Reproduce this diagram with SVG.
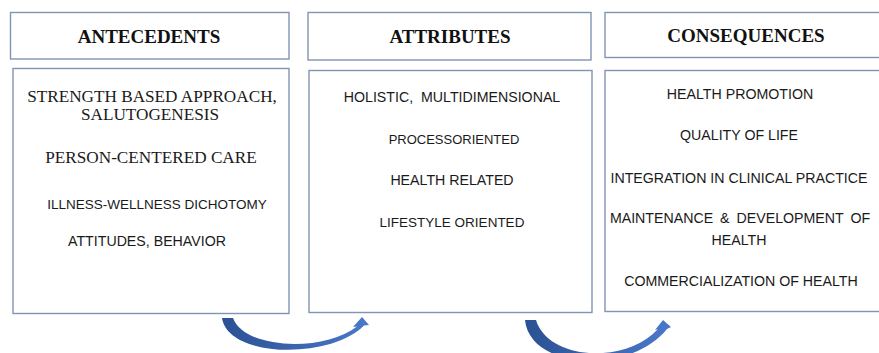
<svg xmlns="http://www.w3.org/2000/svg" width="879" height="353" viewBox="0 0 879 353">
<defs>
<linearGradient id="ag" x1="0" y1="0" x2="1" y2="0">
<stop offset="0" stop-color="#2b5194"/>
<stop offset="1" stop-color="#4a78c9"/>
</linearGradient>
<style>
.box{fill:#fff;stroke:#8094b4;stroke-width:1.4}
.hd{font-family:"Liberation Serif","Times New Roman",serif;font-weight:bold;font-size:19px;fill:#111;text-anchor:middle}
.sf{font-family:"Liberation Serif","Times New Roman",serif;font-size:17.2px;fill:#1a1a1a;text-anchor:middle}
.ss{font-family:"Liberation Sans",Arial,sans-serif;font-size:14.2px;fill:#1a1a1a;text-anchor:middle}
.ss.sm{font-size:13.5px}
.ss.xs{font-size:13px}
.arr{fill:url(#ag)}
</style>
</defs>
<rect width="879" height="353" fill="#fff"/>
<g id="antecedents">
<rect class="box" x="10.5" y="12.5" width="278.5" height="46.5"/>
<text class="hd" x="149" y="42.5">ANTECEDENTS</text>
<rect class="box" x="13" y="68.5" width="276" height="245"/>
<text class="sf" x="152" y="101.5">STRENGTH BASED APPROACH,</text>
<text class="sf" x="150" y="120">SALUTOGENESIS</text>
<text class="sf" x="151" y="162.5">PERSON-CENTERED CARE</text>
<text class="ss sm" x="157" y="208.5">ILLNESS-WELLNESS DICHOTOMY</text>
<text class="ss" x="147" y="246">ATTITUDES, BEHAVIOR</text>
</g>
<g id="attributes">
<rect class="box" x="308" y="12.5" width="283" height="47.5"/>
<text class="hd" x="450" y="43">ATTRIBUTES</text>
<rect class="box" x="309" y="70.5" width="283" height="242"/>
<text class="ss" x="452" y="101.5" xml:space="preserve">HOLISTIC,  MULTIDIMENSIONAL</text>
<text class="ss xs" x="454" y="143.5">PROCESSORIENTED</text>
<text class="ss" x="452" y="185">HEALTH RELATED</text>
<text class="ss sm" x="452" y="226.5">LIFESTYLE ORIENTED</text>
</g>
<g id="consequences">
<rect class="box" x="605" y="12.5" width="285" height="45"/>
<text class="hd" x="746" y="42">CONSEQUENCES</text>
<rect class="box" x="605" y="70.5" width="285" height="241"/>
<text class="ss" x="740" y="99">HEALTH PROMOTION</text>
<text class="ss" x="739" y="139.5">QUALITY OF LIFE</text>
<text class="ss" x="739" y="182.5">INTEGRATION IN CLINICAL PRACTICE</text>
<text class="ss" x="740" y="222.5" word-spacing="3">MAINTENANCE &amp; DEVELOPMENT OF</text>
<text class="ss" x="739" y="245">HEALTH</text>
<text class="ss" x="741" y="285.5">COMMERCIALIZATION OF HEALTH</text>
</g>
<g id="connectors">
<path class="arr" d="M222 318 L233 318 C245 350 325 352 357 326.5 L353 327 L362 317 L369 325 L364 325.6 C330 360 228 358 222 318 Z"/>
<path class="arr" d="M525 320 L536 320 C548 360 625 365 658 329 L655 330 L663 320 L671 327 L667 329 C630 375 530 370 525 320 Z"/>
</g>
</svg>
